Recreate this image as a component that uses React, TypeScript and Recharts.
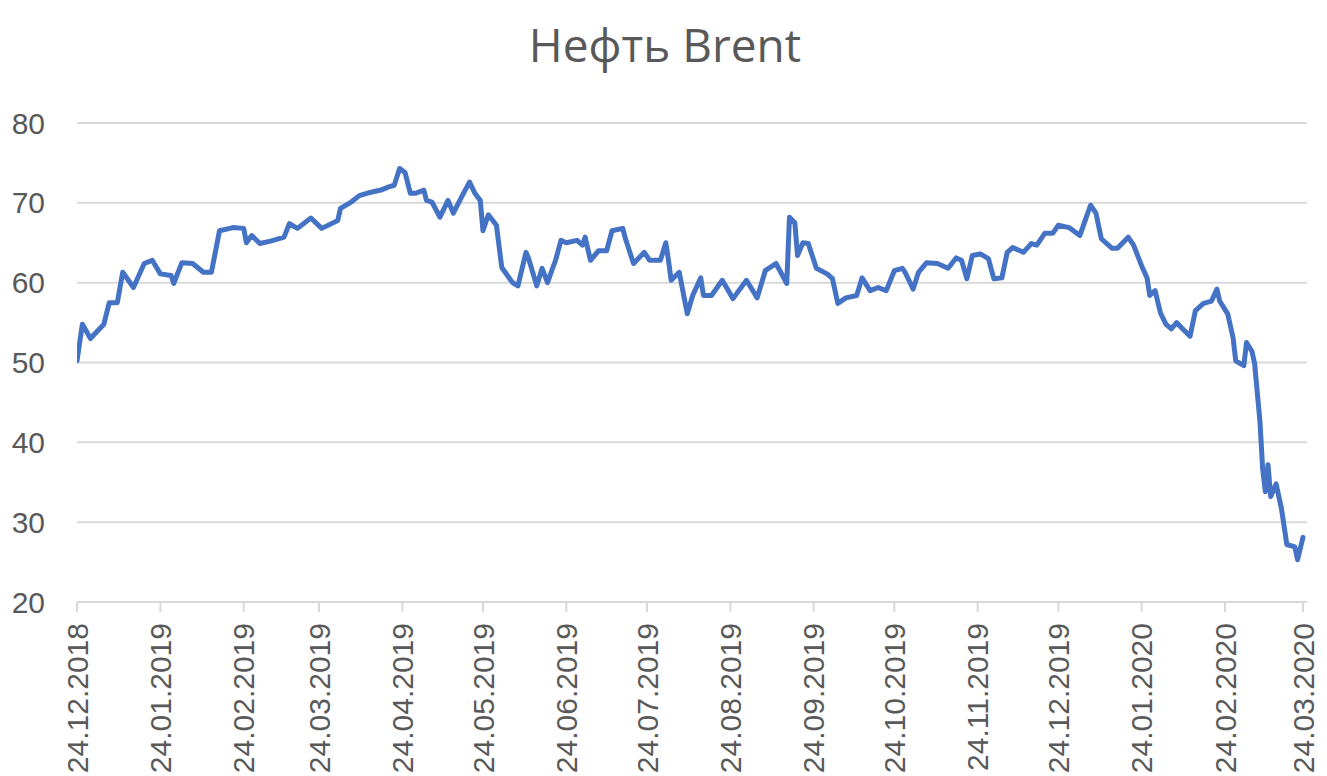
import React from 'react';
import { LineChart, Line, XAxis, YAxis, CartesianGrid } from 'recharts';

const title = 'Нефть Brent';

const dates: string[] = [
  '2018-12-24', '2018-12-26', '2018-12-29', '2019-01-03', '2019-01-05', '2019-01-08', '2019-01-10', '2019-01-14',
  '2019-01-18', '2019-01-21', '2019-01-24', '2019-01-28', '2019-01-29', '2019-02-01', '2019-02-05', '2019-02-09',
  '2019-02-12', '2019-02-15', '2019-02-20', '2019-02-24', '2019-02-25', '2019-02-27', '2019-03-02', '2019-03-06',
  '2019-03-11', '2019-03-13', '2019-03-16', '2019-03-21', '2019-03-25', '2019-03-31', '2019-04-01', '2019-04-05',
  '2019-04-08', '2019-04-12', '2019-04-16', '2019-04-19', '2019-04-21', '2019-04-23', '2019-04-25', '2019-04-27',
  '2019-04-29', '2019-05-02', '2019-05-03', '2019-05-05', '2019-05-08', '2019-05-11', '2019-05-13', '2019-05-16',
  '2019-05-19', '2019-05-21', '2019-05-23', '2019-05-24', '2019-05-26', '2019-05-29', '2019-05-31', '2019-06-04',
  '2019-06-06', '2019-06-09', '2019-06-10', '2019-06-13', '2019-06-15', '2019-06-17', '2019-06-19', '2019-06-20',
  '2019-06-22', '2019-06-24', '2019-06-28', '2019-06-30', '2019-07-01', '2019-07-03', '2019-07-06', '2019-07-09',
  '2019-07-11', '2019-07-15', '2019-07-16', '2019-07-19', '2019-07-23', '2019-07-25', '2019-07-29', '2019-07-31',
  '2019-08-01', '2019-08-02', '2019-08-05', '2019-08-08', '2019-08-10', '2019-08-13', '2019-08-14', '2019-08-17',
  '2019-08-21', '2019-08-25', '2019-08-30', '2019-09-03', '2019-09-06', '2019-09-10', '2019-09-14', '2019-09-15',
  '2019-09-17', '2019-09-18', '2019-09-20', '2019-09-22', '2019-09-25', '2019-09-29', '2019-10-01', '2019-10-03',
  '2019-10-06', '2019-10-10', '2019-10-12', '2019-10-15', '2019-10-18', '2019-10-21', '2019-10-24', '2019-10-27',
  '2019-10-28', '2019-10-31', '2019-11-02', '2019-11-05', '2019-11-09', '2019-11-13', '2019-11-16', '2019-11-18',
  '2019-11-20', '2019-11-22', '2019-11-25', '2019-11-28', '2019-11-30', '2019-12-03', '2019-12-05', '2019-12-07',
  '2019-12-11', '2019-12-14', '2019-12-16', '2019-12-19', '2019-12-22', '2019-12-24', '2019-12-28', '2020-01-01',
  '2020-01-03', '2020-01-05', '2020-01-07', '2020-01-09', '2020-01-13', '2020-01-15', '2020-01-19', '2020-01-21',
  '2020-01-24', '2020-01-26', '2020-01-27', '2020-01-29', '2020-01-31', '2020-02-02', '2020-02-04', '2020-02-06',
  '2020-02-08', '2020-02-11', '2020-02-13', '2020-02-16', '2020-02-19', '2020-02-21', '2020-02-22', '2020-02-25',
  '2020-02-27', '2020-02-28', '2020-03-02', '2020-03-03', '2020-03-05', '2020-03-06', '2020-03-08', '2020-03-09',
  '2020-03-10', '2020-03-11', '2020-03-12', '2020-03-14', '2020-03-16', '2020-03-18', '2020-03-21', '2020-03-22',
  '2020-03-24',
];

const prices: number[] = [
  50.2, 54.8, 53.0, 54.8, 57.5, 57.5, 61.3, 59.4,
  62.4, 62.8, 61.1, 60.9, 59.9, 62.5, 62.4, 61.3,
  61.3, 66.5, 66.9, 66.8, 65.0, 65.9, 64.9, 65.2,
  65.7, 67.4, 66.8, 68.1, 66.8, 67.8, 69.3, 70.1,
  70.9, 71.3, 71.6, 72.0, 72.2, 74.3, 73.8, 71.2,
  71.2, 71.6, 70.3, 70.1, 68.2, 70.3, 68.7, 70.7,
  72.6, 71.2, 70.3, 66.5, 68.5, 67.2, 61.9, 60.0,
  59.6, 63.8, 63.0, 59.6, 61.8, 60.0, 61.9, 62.8,
  65.3, 65.0, 65.3, 64.7, 65.7, 62.8, 64.0, 64.0,
  66.5, 66.8, 65.5, 62.4, 63.8, 62.8, 62.8, 65.0,
  62.8, 60.3, 61.3, 56.1, 58.4, 60.6, 58.4, 58.4,
  60.3, 58.0, 60.3, 58.1, 61.5, 62.4, 59.9, 68.2,
  67.5, 63.4, 65.0, 64.9, 61.8, 61.1, 60.5, 57.4,
  58.1, 58.4, 60.6, 59.0, 59.4, 59.0, 61.5, 61.8,
  61.3, 59.2, 61.3, 62.5, 62.4, 61.8, 63.1, 62.8,
  60.5, 63.4, 63.6, 63.0, 60.5, 60.6, 63.8, 64.4,
  63.8, 64.9, 64.7, 66.2, 66.2, 67.2, 66.9, 65.9,
  67.8, 69.7, 68.7, 65.5, 64.3, 64.3, 65.7, 64.7,
  62.1, 60.6, 58.4, 59.0, 56.2, 54.8, 54.2, 55.0,
  54.3, 53.3, 56.5, 57.4, 57.7, 59.2, 57.7, 56.1,
  53.1, 50.2, 49.6, 52.5, 51.4, 49.9, 42.6, 36.7,
  33.8, 37.2, 33.2, 34.8, 31.7, 27.2, 26.9, 25.3,
  28.1,
];

const tickDates: string[] = [
  '2018-12-24', '2019-01-24', '2019-02-24', '2019-03-24', '2019-04-24', '2019-05-24', '2019-06-24', '2019-07-24',
  '2019-08-24', '2019-09-24', '2019-10-24', '2019-11-24', '2019-12-24', '2020-01-24', '2020-02-24', '2020-03-24',
];

const yTicks: number[] = [20, 30, 40, 50, 60, 70, 80];

const DAY = 86400000;
const data = dates.map((d, i) => ({ t: Date.parse(d), price: prices[i] }));
const xTicks = tickDates.map((d) => Date.parse(d));
const xDomain: [number, number] = [Date.parse(dates[0]), Date.parse(dates[dates.length - 1]) + 1.5 * DAY];

const fmt = (t: number) => {
  const d = new Date(t);
  const dd = String(d.getUTCDate()).padStart(2, '0');
  const mm = String(d.getUTCMonth() + 1).padStart(2, '0');
  return `${dd}.${mm}.${d.getUTCFullYear()}`;
};

const FONT = '"Liberation Sans", Arial, sans-serif';
const GRAY = '#595959';

const XTick = (props: any) => {
  const { x, y, payload } = props;
  return (
    <text
      x={x}
      y={y}
      transform={`rotate(-90 ${x} ${y})`}
      textAnchor="end"
      dy="0.36em"
      fontFamily={FONT}
      fontSize={30}
      fill={GRAY}
    >
      {fmt(payload.value)}
    </text>
  );
};

export default function App() {
  return (
    <div style={{ position: 'absolute', left: 0, top: 0, width: 1327, height: 776, background: '#fff', overflow: 'hidden' }}>
      <svg width={1327} height={100} style={{ position: 'absolute', left: 0, top: 0 }}>
        <text x={665} y={62} textAnchor="middle" fontFamily='"Open Sans", sans-serif' fontSize={46} fill={GRAY}>
          {title}
        </text>
      </svg>
      <div style={{ position: 'absolute', left: 0, top: 0 }}>
        <LineChart width={1327} height={776} data={data} margin={{ top: 123, right: 20, bottom: 0, left: 0 }}>
          <CartesianGrid horizontal vertical={false} stroke="#d9d9d9" strokeWidth={2} />
          <XAxis
            dataKey="t"
            type="number"
            scale="linear"
            domain={xDomain}
            ticks={xTicks}
            interval={0}
            height={174}
            stroke="#d9d9d9"
            strokeWidth={2}
            tickSize={10}
            tickMargin={11}
            tick={<XTick />}
            allowDataOverflow
          />
          <YAxis
            type="number"
            domain={[20, 80]}
            ticks={yTicks}
            width={77}
            axisLine={false}
            tickLine={false}
            tickMargin={26}
            tick={{ fontFamily: FONT, fontSize: 30, fill: GRAY }}
          />
          <Line
            type="linear"
            dataKey="price"
            stroke="#4472C4"
            strokeWidth={5}
            strokeLinejoin="round"
            strokeLinecap="round"
            dot={false}
            activeDot={false}
            isAnimationActive={false}
          />
        </LineChart>
      </div>
    </div>
  );
}
